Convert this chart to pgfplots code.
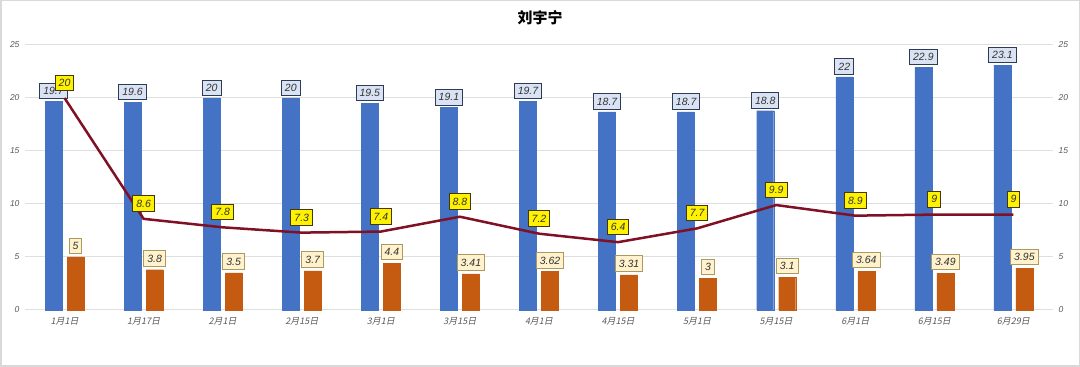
\documentclass[border=0pt]{standalone}
\usepackage{pgfplots}
\pgfplotsset{compat=1.18}
\usepackage{fontspec}
\setmainfont{Liberation Sans}
\newfontfamily\cjk{Noto Sans CJK SC}
\newfontfamily\cjkit[FakeSlant=0.2]{Noto Sans CJK SC}
\definecolor{barblue}{RGB}{68,114,196}
\definecolor{barorange}{RGB}{197,90,17}
\definecolor{linered}{RGB}{128,16,36}
\definecolor{lblblue}{RGB}{218,227,243}
\definecolor{lblblueb}{RGB}{46,59,85}
\definecolor{lblorange}{RGB}{255,242,204}
\definecolor{lblorangeb}{RGB}{168,154,96}
\definecolor{lblyellow}{RGB}{255,242,0}
\definecolor{lblyellowb}{RGB}{70,55,10}
\definecolor{tickgray}{RGB}{89,89,89}
\tikzset{lbl/.style={font=\itshape\fontsize{10.5}{10.5}\selectfont, text=black!80, line width=1pt, inner xsep=3.5pt, inner ysep=4pt, anchor=south}}
\begin{document}
\begin{tikzpicture}
\useasboundingbox (0,0) rectangle (1080pt,367pt);
\draw[gray!30, line width=1.5pt] (0.75pt,0.75pt) rectangle (1079.25pt,366.25pt);
\pgfplotsset{
  base/.style={
    at={(25pt,57pt)}, anchor=south west,
    scale only axis, width=1028pt, height=265pt,
    xmin=-0.5, xmax=12.5, ymin=0, ymax=25,
    axis line style={draw=none},
    major tick length=0pt,
    ytick={0,5,10,15,20,25},
    xtick={0,...,12},
    /pgf/number format/assume math mode=true,
    yticklabel style={font=\itshape\fontsize{8.5}{9}\selectfont, text=tickgray},
    clip=false,
  },
}
\begin{axis}[base,
  ybar, bar width=17pt,
  ymajorgrids, grid style={draw=gray!25, line width=1pt},
  xticklabels={1月1日,1月17日,2月1日,2月15日,3月1日,3月15日,4月1日,4月15日,5月1日,5月15日,6月1日,6月15日,6月29日},
  xticklabel style={font=\cjkit\fontsize{9}{10}\selectfont, text=tickgray, yshift=-4pt},
  yticklabel style={xshift=-2pt},
]
\addplot[fill=barblue, draw=barblue, bar shift=-11pt,
  nodes near coords,
  nodes near coords style={lbl, fill=lblblue, draw=lblblueb, yshift=2pt}]
coordinates {(0,19.7)(1,19.6)(2,20)(3,20)(4,19.5)(5,19.1)(6,19.7)(7,18.7)(8,18.7)(9,18.8)(10,22)(11,22.9)(12,23.1)};
\addplot[fill=barorange, draw=barorange, bar shift=11pt,
  nodes near coords,
  nodes near coords style={lbl, fill=lblorange, draw=lblorangeb, yshift=3pt}]
coordinates {(0,5)(1,3.8)(2,3.5)(3,3.7)(4,4.4)(5,3.41)(6,3.62)(7,3.31)(8,3)(9,3.1)(10,3.64)(11,3.49)(12,3.95)};
\end{axis}
\begin{axis}[base,
  xticklabels={},
  yticklabel pos=right,
  yticklabel style={xshift=2pt},
]
\addplot[linered, line width=2.5pt, mark=none,
  nodes near coords,
  nodes near coords style={lbl, fill=lblyellow, draw=lblyellowb, yshift=7pt}]
coordinates {(0,20)(1,8.6)(2,7.8)(3,7.3)(4,7.4)(5,8.8)(6,7.2)(7,6.4)(8,7.7)(9,9.9)(10,8.9)(11,9)(12,9)};
\end{axis}
\node at (540pt,349pt) {\cjk\bfseries\fontsize{15}{15}\selectfont 刘宇宁};
\end{tikzpicture}
\end{document}
